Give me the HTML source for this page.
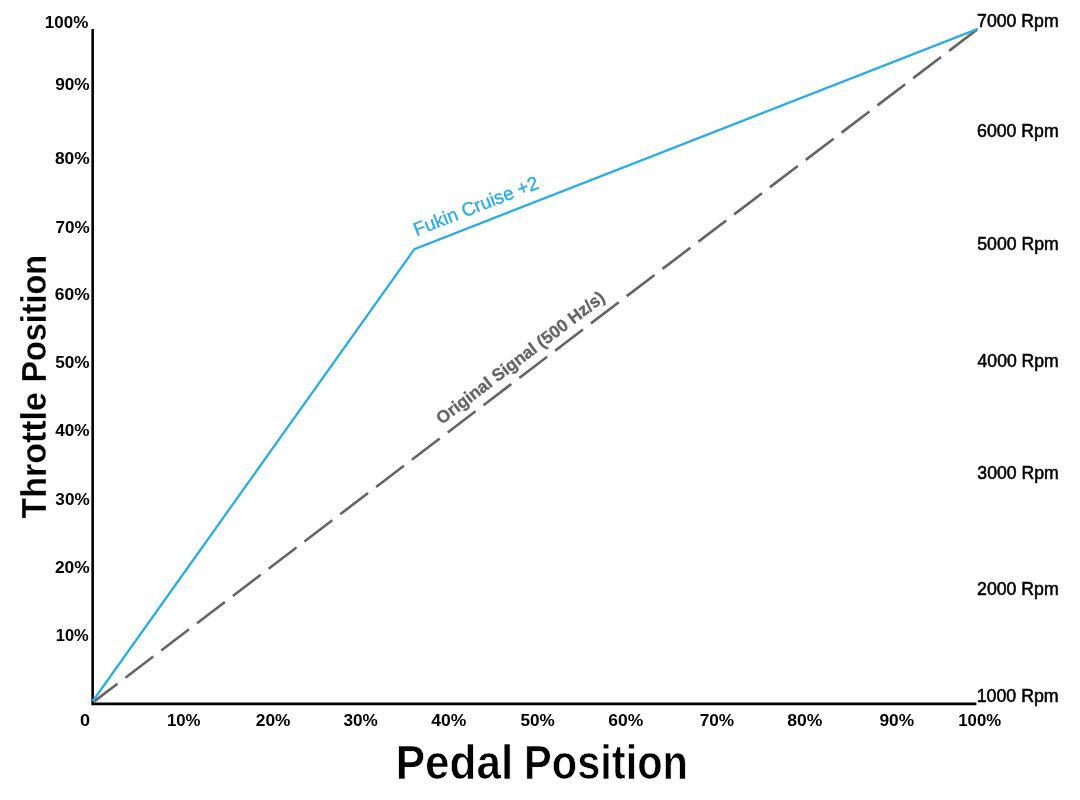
<!DOCTYPE html>
<html><head><meta charset="utf-8"><title>Pedal Position vs Throttle Position</title>
<style>
html,body{margin:0;padding:0;background:#fff;}
body{width:1080px;height:800px;overflow:hidden;}
svg{display:block;will-change:transform;font-family:"Liberation Sans", "DejaVu Sans", sans-serif;font-weight:bold;font-kerning:none;}
</style></head>
<body>
<svg width="1080" height="800" viewBox="0 0 1080 800">
<rect width="1080" height="800" fill="#fff"/>
<path d="M92.65 29V705.2M91.35 703.9H976.4" stroke="#000" stroke-width="2.6" fill="none"/>
<line x1="94.25" y1="701.4" x2="977.9" y2="28.9" stroke="#646464" stroke-width="2.6" stroke-dasharray="35 10" stroke-dashoffset="5.85"/>
<polyline points="92.65,701.25 414.4,249.2 977.9,28.9" fill="none" stroke="#2aade3" stroke-width="2.3"/>
<text x="44.83" y="27.60" font-size="17.4" fill="#000" textLength="43.42" lengthAdjust="spacingAndGlyphs">100%</text>
<text x="55.15" y="89.80" font-size="17.4" fill="#000" textLength="34.50" lengthAdjust="spacingAndGlyphs">90%</text>
<text x="54.95" y="164.00" font-size="17.4" fill="#000" textLength="34.71" lengthAdjust="spacingAndGlyphs">80%</text>
<text x="55.47" y="232.80" font-size="17.4" fill="#000" textLength="34.18" lengthAdjust="spacingAndGlyphs">70%</text>
<text x="54.86" y="299.55" font-size="17.4" fill="#000" textLength="34.90" lengthAdjust="spacingAndGlyphs">60%</text>
<text x="55.22" y="367.80" font-size="17.4" fill="#000" textLength="34.43" lengthAdjust="spacingAndGlyphs">50%</text>
<text x="55.24" y="435.80" font-size="17.4" fill="#000" textLength="34.41" lengthAdjust="spacingAndGlyphs">40%</text>
<text x="55.36" y="504.55" font-size="17.4" fill="#000" textLength="34.30" lengthAdjust="spacingAndGlyphs">30%</text>
<text x="54.90" y="572.80" font-size="17.4" fill="#000" textLength="34.76" lengthAdjust="spacingAndGlyphs">20%</text>
<text x="55.76" y="641.30" font-size="17.4" fill="#000" textLength="32.97" lengthAdjust="spacingAndGlyphs">10%</text>
<text x="79.98" y="726.00" font-size="17.4" fill="#000" textLength="10.06" lengthAdjust="spacingAndGlyphs">0</text>
<text x="166.94" y="726.00" font-size="17.4" fill="#000" textLength="33.60" lengthAdjust="spacingAndGlyphs">10%</text>
<text x="255.80" y="726.00" font-size="17.4" fill="#000" textLength="34.66" lengthAdjust="spacingAndGlyphs">20%</text>
<text x="343.41" y="726.00" font-size="17.4" fill="#000" textLength="34.45" lengthAdjust="spacingAndGlyphs">30%</text>
<text x="431.23" y="726.00" font-size="17.4" fill="#000" textLength="35.13" lengthAdjust="spacingAndGlyphs">40%</text>
<text x="520.57" y="726.00" font-size="17.4" fill="#000" textLength="34.28" lengthAdjust="spacingAndGlyphs">50%</text>
<text x="608.36" y="726.00" font-size="17.4" fill="#000" textLength="35.00" lengthAdjust="spacingAndGlyphs">60%</text>
<text x="699.66" y="726.00" font-size="17.4" fill="#000" textLength="34.49" lengthAdjust="spacingAndGlyphs">70%</text>
<text x="787.24" y="726.00" font-size="17.4" fill="#000" textLength="35.12" lengthAdjust="spacingAndGlyphs">80%</text>
<text x="879.40" y="726.00" font-size="17.4" fill="#000" textLength="34.66" lengthAdjust="spacingAndGlyphs">90%</text>
<text x="958.24" y="726.00" font-size="17.4" fill="#000" textLength="42.90" lengthAdjust="spacingAndGlyphs">100%</text>
<text x="977.09" y="26.50" font-size="17.9" font-weight="normal" fill="#000" textLength="81.57" lengthAdjust="spacingAndGlyphs" stroke="#000" stroke-width="0.55">7000 Rpm</text>
<text x="977.10" y="137.00" font-size="17.9" font-weight="normal" fill="#000" textLength="81.56" lengthAdjust="spacingAndGlyphs" stroke="#000" stroke-width="0.55">6000 Rpm</text>
<text x="977.29" y="249.60" font-size="17.9" font-weight="normal" fill="#000" textLength="81.37" lengthAdjust="spacingAndGlyphs" stroke="#000" stroke-width="0.55">5000 Rpm</text>
<text x="977.60" y="367.40" font-size="17.9" font-weight="normal" fill="#000" textLength="81.06" lengthAdjust="spacingAndGlyphs" stroke="#000" stroke-width="0.55">4000 Rpm</text>
<text x="977.33" y="479.20" font-size="17.9" font-weight="normal" fill="#000" textLength="81.33" lengthAdjust="spacingAndGlyphs" stroke="#000" stroke-width="0.55">3000 Rpm</text>
<text x="977.11" y="594.60" font-size="17.9" font-weight="normal" fill="#000" textLength="81.55" lengthAdjust="spacingAndGlyphs" stroke="#000" stroke-width="0.55">2000 Rpm</text>
<text x="976.65" y="701.50" font-size="17.9" font-weight="normal" fill="#000" textLength="82.03" lengthAdjust="spacingAndGlyphs" stroke="#000" stroke-width="0.55">1000 Rpm</text>
<text x="395.75" y="779.00" font-size="47.5" fill="#000" textLength="117.46" lengthAdjust="spacingAndGlyphs" stroke="#fff" stroke-width="0.7">Pedal</text>
<text x="524.02" y="779.00" font-size="47.5" fill="#000" textLength="163.96" lengthAdjust="spacingAndGlyphs" stroke="#fff" stroke-width="0.7">Position</text>
<g transform="translate(0,0) rotate(-90)"><text x="-518.48" y="46.40" font-size="35.9" fill="#000" textLength="126.24" lengthAdjust="spacingAndGlyphs" stroke="#fff" stroke-width="0.25">Throttle</text><text x="-382.46" y="46.40" font-size="35.9" fill="#000" textLength="127.57" lengthAdjust="spacingAndGlyphs" stroke="#fff" stroke-width="0.25">Position</text></g>
<g transform="translate(414.4,249.2) rotate(-21.353)"><text x="6.75" y="-11.30" font-size="19" font-weight="normal" fill="#2aade3" textLength="132.60" lengthAdjust="spacingAndGlyphs" stroke="#2aade3" stroke-width="0.35">Fukin Cruise +2</text></g>
<g transform="translate(94.25,701.4) rotate(-37.273)"><text x="443.99" y="-9.60" font-size="17.4" fill="#646464" textLength="206.66" lengthAdjust="spacingAndGlyphs" stroke="#646464" stroke-width="0.3">Original Signal (500 Hz/s)</text></g>
</svg>
</body></html>
